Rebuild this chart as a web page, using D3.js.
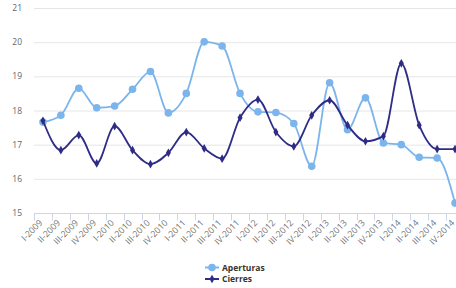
<!DOCTYPE html>
<html>
<head>
<meta charset="utf-8">
<script src="https://cdn.jsdelivr.net/npm/d3@7"></script>
<style>
  html, body { margin: 0; padding: 0; background: #fff; }
  svg { display: block; font-family: "Open Sans", "Liberation Sans", sans-serif; }
</style>
</head>
<body>
<svg id="chart" width="456" height="288"></svg>
<script>
const categories = ["I-2009","II-2009","III-2009","IV-2009","I-2010","II-2010","III-2010","IV-2010",
  "I-2011","II-2011","III-2011","IV-2011","I-2012","II-2012","III-2012","IV-2012",
  "I-2013","II-2013","III-2013","IV-2013","I-2014","II-2014","III-2014","IV-2014"];
const aperturas = [17.66,17.86,18.65,18.08,18.13,18.62,19.14,17.93,18.50,20.01,19.89,18.50,
  17.96,17.94,17.62,16.37,18.81,17.44,18.37,17.05,17.00,16.63,16.61,15.29];
const cierres = [17.70,16.84,17.28,16.45,17.54,16.84,16.43,16.76,17.37,16.89,16.59,17.79,
  18.32,17.37,16.95,17.86,18.30,17.57,17.10,17.25,19.38,17.57,16.87,16.87];
const yTicks = [15,16,17,18,19,20,21];

const series = [
  { name: "Aperturas", values: aperturas, color: "#7cb5ec", marker: "circle" },
  { name: "Cierres", values: cierres, color: "#2e2c86", marker: "diamond" }
];

const svg = d3.select("#chart");
const plotLeft = 34, plotRight = 464, plotTop = 8, plotBottom = 213;

const x = d3.scaleBand().domain(categories).range([plotLeft, plotRight]);
const y = d3.scaleLinear().domain([15, 21]).range([plotBottom, plotTop]);

// grid
svg.append("g").selectAll("line")
  .data(yTicks.filter(d => d !== 15))
  .enter().append("line")
  .attr("x1", plotLeft).attr("x2", 456)
  .attr("y1", d => y(d) + 0.5).attr("y2", d => y(d) + 0.5)
  .attr("stroke", "#e6e6e6");

// y labels
svg.append("g").selectAll("text")
  .data(yTicks)
  .enter().append("text")
  .attr("x", 22).attr("y", d => y(d) + 3)
  .attr("text-anchor", "end")
  .attr("fill", "#666").attr("font-size", 8.5)
  .text(d => d);

// x axis
const xAxis = svg.append("g")
  .attr("transform", "translate(0," + (plotBottom + 0.5) + ")");
xAxis.append("line")
  .attr("x1", plotLeft).attr("x2", 456)
  .attr("stroke", "#ccd6eb");
xAxis.selectAll(".tick")
  .data(categories)
  .enter().append("line")
  .attr("x1", d => Math.round(x(d)) + 0.5).attr("x2", d => Math.round(x(d)) + 0.5)
  .attr("y1", 0).attr("y2", 7)
  .attr("stroke", "#ccd6eb");
xAxis.selectAll("text")
  .data(categories)
  .enter().append("text")
  .attr("transform", d => "translate(" + (x(d) + x.bandwidth() / 2) + ",10) rotate(-45)")
  .attr("text-anchor", "end")
  .attr("fill", "#777").attr("font-size", 8.8)
  .text(d => d);

// lines
const line = d3.line()
  .x((d, i) => x(categories[i]) + x.bandwidth() / 2)
  .y(d => y(d))
  .curve(d3.curveMonotoneX);

const diamond = d3.symbol().type(d3.symbolDiamond).size(22);

series.forEach(s => {
  svg.append("path")
    .datum(s.values)
    .attr("fill", "none")
    .attr("stroke", s.color)
    .attr("stroke-width", 1.8)
    .attr("d", line);
  const g = svg.append("g");
  s.values.forEach((v, i) => {
    const cx = x(categories[i]) + x.bandwidth() / 2;
    if (s.marker === "circle") {
      g.append("circle").attr("cx", cx).attr("cy", y(v)).attr("r", 3.8).attr("fill", s.color);
    } else {
      g.append("path").attr("d", diamond).attr("transform", "translate(" + cx + "," + y(v) + ")").attr("fill", s.color);
    }
  });
});

// legend
const legend = svg.append("g");
series.forEach((s, i) => {
  const ly = 267.5 + i * 11.5;
  legend.append("line")
    .attr("x1", 205).attr("x2", 219).attr("y1", ly).attr("y2", ly)
    .attr("stroke", s.color).attr("stroke-width", 2);
  if (s.marker === "circle") {
    legend.append("circle").attr("cx", 212).attr("cy", ly).attr("r", 3.8).attr("fill", s.color);
  } else {
    legend.append("path").attr("d", diamond).attr("transform", "translate(212," + ly + ")").attr("fill", s.color);
  }
  legend.append("text")
    .attr("x", 222).attr("y", ly + 3.1)
    .attr("fill", "#333").attr("font-size", 8.5).attr("font-weight", "bold")
    .text(s.name);
});
</script>
</body>
</html>
